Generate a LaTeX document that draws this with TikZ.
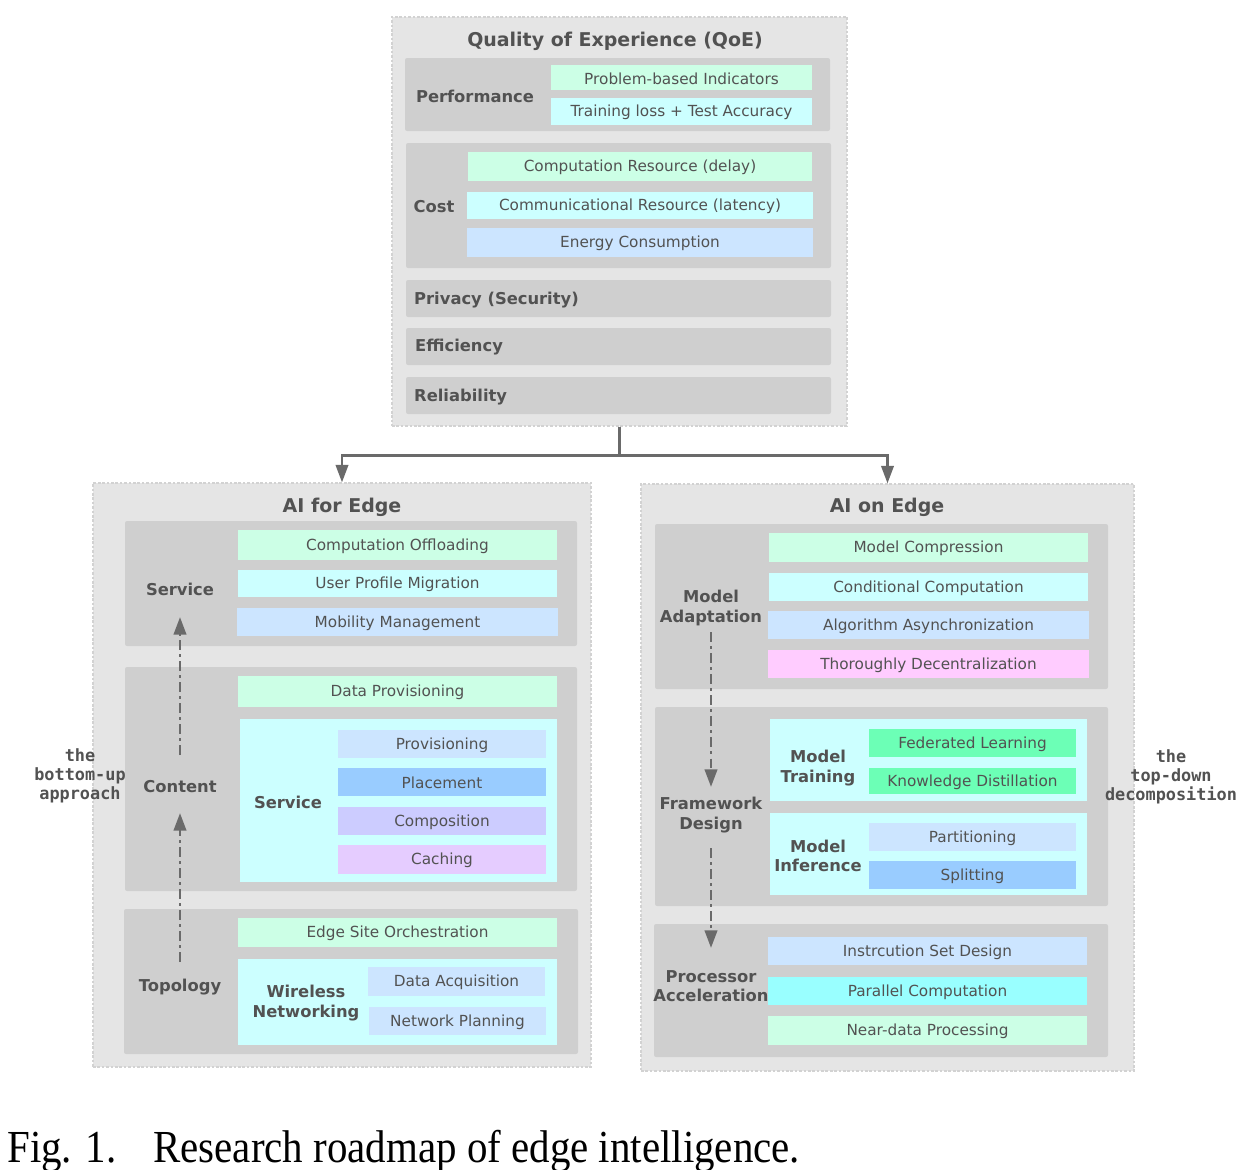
\documentclass[tikz,border=0pt]{standalone}
\usepackage{fontspec}
\usetikzlibrary{arrows.meta,fit,calc}
\newfontfamily\dvsans{DejaVu Sans}
\newfontfamily\dvmono{DejaVu Sans Mono}
\newfontfamily\tmsfont{Liberation Serif}

\definecolor{outerbg}{HTML}{E5E5E5}
\definecolor{outerln}{HTML}{D2D2D2}
\definecolor{groupbg}{HTML}{CFCFCF}
\definecolor{txt}{HTML}{525252}
\definecolor{arrowc}{HTML}{6A6A6A}
\definecolor{mint}{HTML}{CCFFE6}
\definecolor{aqua}{HTML}{CCFFFF}
\definecolor{sky}{HTML}{CCE5FF}
\definecolor{pinky}{HTML}{FFCCFF}
\definecolor{bluey}{HTML}{99CCFF}
\definecolor{lavender}{HTML}{CCCCFF}
\definecolor{lilac}{HTML}{E5CCFF}
\definecolor{greeny}{HTML}{6CFFB6}
\definecolor{cyany}{HTML}{99FFFF}

\tikzset{
  outer/.style={fill=outerbg, draw=outerln, line width=0.6pt, dash pattern=on 1.5pt off 1pt, inner sep=0pt},
  group/.style={fill=groupbg, rounded corners=1.2pt, inner sep=0pt},
  panel/.style={fill=aqua, inner sep=0pt},
  item/.style={fill=#1, inner sep=0pt},
  itxt/.style={inner sep=0pt, yshift=-0.7pt, text=txt, font=\dvsans\fontsize{8.7}{10}\selectfont},
  head/.style={text=txt, font=\dvsans\bfseries\fontsize{10.8}{12}\selectfont},
  lbl/.style={text=txt, align=center, font=\dvsans\bfseries\fontsize{9.3}{11.2}\selectfont},
  note/.style={text=txt, align=center, font=\dvmono\bfseries\fontsize{9.6}{10.8}\selectfont},
  conn/.style={draw=arrowc, line width=1.6pt, -{Triangle[width=7pt,length=10pt]}},
  flow/.style={draw=arrowc, line width=1.6pt, dash pattern=on 5.5pt off 2.5pt on 1.5pt off 2.5pt,
    -{Triangle[width=7pt,length=10pt]}}
}

\begin{document}
\begin{tikzpicture}[x=0.02cm, y=-0.02cm]
  \useasboundingbox (0,0) rectangle (1242,1170);

  % quality of experience
  \node[outer, fit={(392,17) (847,426)}] (qoe) {};
  \node[head] (qoet) at (615,41) {Quality of Experience (QoE)};

  \node[group, fit={(405,58) (830,131)}] (perf) {};
  \node[lbl] (perfl) at (475,96) {Performance};
  \node[item=mint, fit={(551,65) (812,90)}, label={[itxt]center:Problem-based Indicators}] (pbi) {};
  \node[item=aqua, fit={(551,98) (812,125)}, label={[itxt]center:Training loss + Test Accuracy}] (tlta) {};

  \node[group, fit={(406,143) (831,268)}] (cost) {};
  \node[lbl] (costl) at (434,207) {Cost};
  \node[item=mint, fit={(468,152) (812,181)}, label={[itxt]center:Computation Resource (delay)}] (compr) {};
  \node[item=aqua, fit={(467,192) (813,219)}, label={[itxt]center:Communicational Resource (latency)}] (commr) {};
  \node[item=sky, fit={(467,228) (813,257)}, label={[itxt]center:Energy Consumption}] (energy) {};

  \node[group, fit={(406,280) (831,317)}] (priv) {};
  \node[lbl, anchor=west] (privl) at (408,300) {Privacy (Security)};
  \node[group, fit={(406,328) (831,365)}] (effi) {};
  \node[lbl, anchor=west] (effil) at (409,347) {Efficiency};
  \node[group, fit={(406,377) (831,414)}] (reli) {};
  \node[lbl, anchor=west] (relil) at (408,397) {Reliability};

  % ai for edge
  \node[outer, fit={(93,483) (591,1067)}] (afe) {};
  \node[head] (afet) at (342,507) {AI for Edge};

  \node[group, fit={(125,521) (577,646)}] (serv) {};
  \node[lbl] (servl) at (180,589) {Service};
  \node[item=mint, fit={(238,530) (557,560)}, label={[itxt]center:Computation Offloading}] (offl) {};
  \node[item=aqua, fit={(238,570) (557,597)}, label={[itxt]center:User Profile Migration}] (upm) {};
  \node[item=sky, fit={(237,608) (558,636)}, label={[itxt]center:Mobility Management}] (mobm) {};

  \node[group, fit={(125,667) (577,891)}] (cont) {};
  \node[lbl] (contl) at (180,787) {Content};
  \node[item=mint, fit={(238,676) (557,707)}, label={[itxt]center:Data Provisioning}] (datap) {};
  \node[panel, fit={(240,719) (557,882)}] (svcp) {};
  \node[lbl] (svcl) at (288,802) {Service};
  \node[item=sky, fit={(338,730) (546,758)}, label={[itxt]center:Provisioning}] (prov) {};
  \node[item=bluey, fit={(338,768) (546,796)}, label={[itxt]center:Placement}] (place) {};
  \node[item=lavender, fit={(338,807) (546,835)}, label={[itxt]center:Composition}] (compo) {};
  \node[item=lilac, fit={(338,845) (546,874)}, label={[itxt]center:Caching}] (cach) {};

  \node[group, fit={(124,909) (578,1054)}] (topo) {};
  \node[lbl] (topol) at (180,987) {Topology};
  \node[item=mint, fit={(238,918) (557,947)}, label={[itxt]center:Edge Site Orchestration}] (eso) {};
  \node[panel, fit={(238,959) (557,1045)}] (wlp) {};
  \node[lbl] (wll) at (306,1003) {Wireless\\Networking};
  \node[item=sky, fit={(368,967) (545,996)}, label={[itxt]center:Data Acquisition}] (daq) {};
  \node[item=sky, fit={(369,1007) (546,1035)}, label={[itxt]center:Network Planning}] (netp) {};

  % ai on edge
  \node[outer, fit={(641,484) (1134,1071)}] (aoe) {};
  \node[head] (aoet) at (887,507) {AI on Edge};

  \node[group, fit={(655,524) (1108,689)}] (madp) {};
  \node[lbl] (madpl) at (711,608) {Model\\Adaptation};
  \node[item=mint, fit={(769,533) (1088,562)}, label={[itxt]center:Model Compression}] (mcomp) {};
  \node[item=aqua, fit={(769,573) (1088,601)}, label={[itxt]center:Conditional Computation}] (ccomp) {};
  \node[item=sky, fit={(768,611) (1089,639)}, label={[itxt]center:Algorithm Asynchronization}] (aasy) {};
  \node[item=pinky, fit={(768,650) (1089,678)}, label={[itxt]center:Thoroughly Decentralization}] (tdec) {};

  \node[group, fit={(655,707) (1108,906)}] (fwd) {};
  \node[lbl] (fwdl) at (711,815) {Framework\\Design};
  \node[panel, fit={(770,719) (1087,801)}] (mtp) {};
  \node[lbl] (mtl) at (818,768) {Model\\Training};
  \node[item=greeny, fit={(869,729) (1076,757)}, label={[itxt]center:Federated Learning}] (fedl) {};
  \node[item=greeny, fit={(869,768) (1076,794)}, label={[itxt]center:Knowledge Distillation}] (kdis) {};
  \node[panel, fit={(770,813) (1087,895)}] (mip) {};
  \node[lbl] (mil) at (818,856) {Model\\Inference};
  \node[item=sky, fit={(869,823) (1076,851)}, label={[itxt]center:Partitioning}] (part) {};
  \node[item=bluey, fit={(869,861) (1076,889)}, label={[itxt]center:Splitting}] (splt) {};

  \node[group, fit={(654,924) (1108,1057)}] (proc) {};
  \node[lbl] (procl) at (711,986) {Processor\\Acceleration};
  \node[item=sky, fit={(768,937) (1087,965)}, label={[itxt]center:Instrcution Set Design}] (isd) {};
  \node[item=cyany, fit={(768,977) (1087,1005)}, label={[itxt]center:Parallel Computation}] (parc) {};
  \node[item=mint, fit={(768,1016) (1087,1045)}, label={[itxt]center:Near-data Processing}] (ndp) {};

  % side notes
  \node[note] (bup) at (80,776) {the\\bottom-up\\approach};
  \node[note] (tdn) at (1171,777) {the\\top-down\\decomposition};

  % connectors
  \draw[conn] (qoe.south) -- ++(0,29) -| (afe.north);
  \draw[conn] (qoe.south) -- ++(0,29) -| (aoe.north);

  \draw[flow] ($(topol)+(0,-25)$) -- ($(contl)+(0,26)$);
  \draw[flow] ($(contl)+(0,-32)$) -- ($(servl)+(0,28)$);
  \draw[flow] ($(madpl)+(0,24)$) -- ($(fwdl)+(0,-28)$);
  \draw[flow] ($(fwdl)+(0,33)$) -- ($(procl)+(0,-38)$);

  % caption
  \node[anchor=base west, inner sep=0pt, font=\tmsfont\fontsize{23.3}{28}\selectfont] (capt) at (7,1162)
    {\scalebox{1}[1.12]{Fig. 1.\hspace{0.9em}Research roadmap of edge intelligence.}};
\end{tikzpicture}
\end{document}
